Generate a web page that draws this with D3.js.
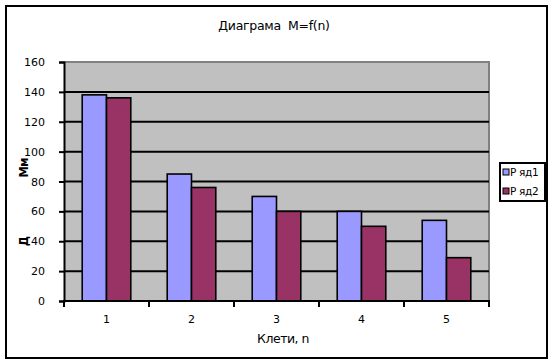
<!DOCTYPE html>
<html><head><meta charset="utf-8">
<script src="https://cdn.jsdelivr.net/npm/d3@7"></script>
<style>body{margin:0;background:#fff}svg{display:block}text{font-family:"DejaVu Sans",Verdana,sans-serif;white-space:pre}</style>
</head><body>
<svg id="c" width="552" height="363"></svg>
<script>
const categories = ["1","2","3","4","5"];
const seriesNames = ["Ряд1","Ряд2"];
const series1 = [138,85,70,60,54];
const series2 = [136,76,60,50,29];
const yTicks = [0,20,40,60,80,100,120,140,160];
const title = "Диаграма  M=f(n)";
const xTitle = "Клети, n";

const colors = ["#9999FF","#993366"];
const svg = d3.select("#c");
svg.append("rect").attr("x",6).attr("y",6).attr("width",541).attr("height",352)
  .attr("fill","#fff").attr("stroke","#000").attr("stroke-width",2);

const L=64,R=489,T=62,B=301;
const x = d3.scaleBand().domain(categories).range([L,R]).paddingInner(0).paddingOuter(0);
const y = d3.scaleLinear().domain([0,160]).range([B,T]);

svg.append("rect").attr("x",L).attr("y",T).attr("width",R-L).attr("height",B-T).attr("fill","#C0C0C0");
svg.append("path").attr("d",`M${L},${T}H${R}V${B}`).attr("fill","none").attr("stroke","#808080").attr("stroke-width",2);

// gridlines
svg.append("g").selectAll("line").data(yTicks.filter(v=>v>0&&v<160)).join("line")
  .attr("x1",L).attr("x2",R).attr("y1",d=>y(d)).attr("y2",d=>y(d))
  .attr("stroke","#000").attr("stroke-width",2);

// bars (gap width 150%)
const data = [series1,series2];
const bw = x.bandwidth()/3.5;
data.forEach((s,si)=>{
  svg.append("g").selectAll("rect").data(s).join("rect")
    .attr("x",(d,i)=>x(categories[i]) + bw*0.75 + si*bw)
    .attr("y",d=>y(d)).attr("width",bw).attr("height",d=>y(0)-y(d))
    .attr("fill",colors[si]).attr("stroke","#000").attr("stroke-width",1.6);
});

// y axis
const ya = d3.axisLeft(y).tickValues(yTicks).tickSize(5).tickPadding(14);
const gy = svg.append("g").attr("transform",`translate(${L},0)`).call(ya);
gy.select(".domain").attr("stroke","#000").attr("stroke-width",2);
gy.selectAll(".tick line").attr("stroke","#000").attr("stroke-width",2);
gy.selectAll("text").attr("font-family","'Liberation Sans',Arial,sans-serif").attr("font-size",11).attr("fill","#000");

// x axis
const xa = d3.axisBottom(x).tickSize(0).tickPadding(14);
const gx = svg.append("g").attr("transform",`translate(0,${B})`).call(xa);
gx.select(".domain").remove();
gx.selectAll("text").attr("font-family","'Liberation Sans',Arial,sans-serif").attr("font-size",11).attr("fill","#000");
svg.append("line").attr("x1",L-1).attr("x2",R+1).attr("y1",B).attr("y2",B).attr("stroke","#000").attr("stroke-width",2);
svg.append("g").selectAll("line").data(categories.concat(["end"])).join("line")
  .attr("x1",(d,i)=>L+i*x.bandwidth()).attr("x2",(d,i)=>L+i*x.bandwidth())
  .attr("y1",B).attr("y2",B+6).attr("stroke","#000").attr("stroke-width",2);

// titles
svg.append("text").attr("x",274).attr("y",30).attr("text-anchor","middle")
  .attr("font-size",12.5).attr("letter-spacing",-0.3).text(title);
svg.append("text").attr("x",283).attr("y",343).attr("text-anchor","middle")
  .attr("font-size",12.5).attr("letter-spacing",-0.5).text(xTitle);
svg.append("text").attr("transform","translate(28,168) rotate(-90)").attr("text-anchor","middle")
  .attr("font-size",11.5).attr("font-weight","bold").attr("letter-spacing",-1).text("Мм");
svg.append("text").attr("transform","translate(28,241) rotate(-90)").attr("text-anchor","middle")
  .attr("font-size",11.5).attr("font-weight","bold").text("Д");

// legend
const lg = svg.append("g");
lg.append("rect").attr("x",500).attr("y",163).attr("width",45).attr("height",38)
  .attr("fill","#fff").attr("stroke","#000").attr("stroke-width",2);
seriesNames.forEach((n,i)=>{
  lg.append("rect").attr("x",503).attr("y",169+i*19).attr("width",6).attr("height",6)
    .attr("fill",colors[i]).attr("stroke","#000").attr("stroke-width",1);
  lg.append("text").attr("x",510).attr("y",176+i*19).attr("font-size",10.5)
    .attr("font-family","'Liberation Sans',Arial,sans-serif").attr("letter-spacing",-0.3).text(n.replace("Р","Р "));
});
</script>
</body></html>
